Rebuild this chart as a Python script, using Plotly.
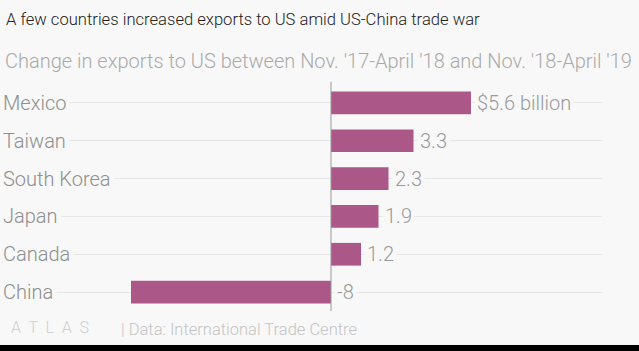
import plotly.graph_objects as go

countries = ["Mexico", "Taiwan", "South Korea", "Japan", "Canada", "China"]
values = [5.6, 3.3, 2.3, 1.9, 1.2, -8]
value_labels = ["$5.6 billion", "3.3", "2.3", "1.9", "1.2", "-8"]

BG = "#f8f8f8"
BAR = "#ab5787"
FONT = "Roboto"

W, H = 639, 351
ML, MR, MT, MB = 0, 37, 84, 40
plot_w = W - ML - MR
plot_h = H - MT - MB
zero_px = 331
ppu = 25.0
xmin = -(zero_px - ML) / ppu
xmax = xmin + plot_w / ppu


def py(pixel_y):
    return ((H - MB) - pixel_y) / plot_h


fig = go.Figure()
fig.add_trace(go.Bar(
    x=values, y=countries, orientation="h",
    marker=dict(color=BAR, line=dict(width=0)),
    width=0.6, hoverinfo="skip",
))

anns = []
for c, v, t in zip(countries, values, value_labels):
    anns.append(dict(x=max(v, 0), y=c, xref="x", yref="y", text=t,
                     showarrow=False, xanchor="left", yanchor="middle",
                     xshift=3, bgcolor=BG, borderpad=2,
                     font=dict(family=FONT, size=20, weight=300, color="#9a9a9a")))
    anns.append(dict(x=0, y=c, xref="paper", yref="y", text=c,
                     showarrow=False, xanchor="left", yanchor="middle",
                     xshift=-1, bgcolor=BG, borderpad=3,
                     font=dict(family=FONT, size=20, weight=300, color="#8e8e8e")))

anns.append(dict(x=4 / plot_w, y=py(19), xref="paper", yref="paper",
                 text="A few countries increased exports to US amid US-China trade war",
                 showarrow=False, xanchor="left", yanchor="middle",
                 font=dict(family=FONT, size=16.6, weight=300, color="#222222")))
anns.append(dict(x=3 / plot_w, y=py(61), xref="paper", yref="paper",
                 text="Change in exports to US between Nov. '17-April '18 and Nov. '18-April '19",
                 showarrow=False, xanchor="left", yanchor="middle",
                 font=dict(family=FONT, size=20, weight=300, color="#aaaaaa")))
anns.append(dict(x=9 / plot_w, y=py(327), xref="paper", yref="paper",
                 text="A  T  L  A  S", showarrow=False, xanchor="left", yanchor="middle",
                 font=dict(family=FONT, size=16, weight=300, color="#cfcfcf")))
anns.append(dict(x=119 / plot_w, y=py(329), xref="paper", yref="paper",
                 text="| Data: International Trade Centre", showarrow=False,
                 xanchor="left", yanchor="middle",
                 font=dict(family=FONT, size=16.5, weight=300, color="#c4c4c4")))

shapes = [
    dict(type="line", xref="x", yref="paper", x0=0, x1=0, y0=0, y1=1.01,
         line=dict(color="#999999", width=1)),
    dict(type="rect", xref="paper", yref="paper", x0=-0.01, x1=W / plot_w + 0.01,
         y0=py(345), y1=py(352),
         fillcolor="#000000", line=dict(width=0), layer="above"),
]

fig.update_layout(
    width=W, height=H,
    margin=dict(l=ML, r=MR, t=MT, b=MB, pad=0),
    paper_bgcolor=BG, plot_bgcolor=BG,
    showlegend=False,
    xaxis=dict(range=[xmin, xmax], showgrid=False, zeroline=False,
               showticklabels=False, ticks="", fixedrange=True),
    yaxis=dict(categoryorder="array", categoryarray=countries[::-1],
               showgrid=True, gridcolor="#e6e6e6", gridwidth=1,
               zeroline=False, showticklabels=False, ticks="", fixedrange=True),
    annotations=anns,
    shapes=shapes,
)

fig.write_html("out.html")
